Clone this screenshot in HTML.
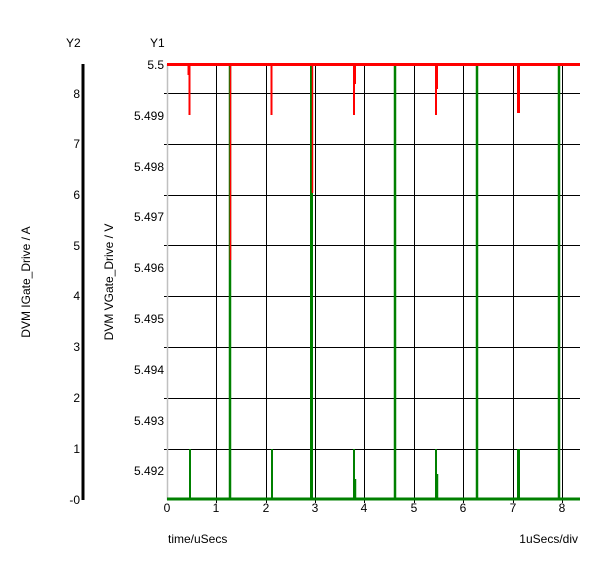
<!DOCTYPE html>
<html><head><style>body{margin:0;background:#fff}svg{display:block}text{font-family:"Liberation Sans",sans-serif;font-size:12px;fill:#000}</style></head>
<body>
<svg width="600" height="563" viewBox="0 0 600 563">
<rect width="600" height="563" fill="#fff"/>
<text x="66" y="47">Y2</text>
<text x="150" y="47">Y1</text>
<line x1="83" y1="64" x2="83" y2="500" stroke="#000" stroke-width="3"/>
<g text-anchor="end">
<text x="80" y="98">8</text><text x="80" y="148">7</text><text x="80" y="199">6</text><text x="80" y="250">5</text><text x="80" y="300">4</text><text x="80" y="351">3</text><text x="80" y="402">2</text><text x="80" y="453">1</text><text x="80" y="504">-0</text>
<text x="164" y="69">5.5</text><text x="164" y="120">5.499</text><text x="164" y="171">5.498</text><text x="164" y="221">5.497</text><text x="164" y="272">5.496</text><text x="164" y="323">5.495</text><text x="164" y="374">5.494</text><text x="164" y="425">5.493</text><text x="164" y="475">5.492</text>
</g>
<text transform="translate(30,282) rotate(-90)" text-anchor="middle">DVM IGate_Drive / A</text>
<text transform="translate(113,282) rotate(-90)" text-anchor="middle">DVM VGate_Drive / V</text>
<g stroke="#000" stroke-width="1">
<line x1="164" y1="93.5" x2="580" y2="93.5"/><line x1="164" y1="144.5" x2="580" y2="144.5"/><line x1="164" y1="195.5" x2="580" y2="195.5"/><line x1="164" y1="245.5" x2="580" y2="245.5"/><line x1="164" y1="296.5" x2="580" y2="296.5"/><line x1="164" y1="347.5" x2="580" y2="347.5"/><line x1="164" y1="398.5" x2="580" y2="398.5"/><line x1="164" y1="449.5" x2="580" y2="449.5"/>
<line x1="216.5" y1="64" x2="216.5" y2="503"/><line x1="266.5" y1="64" x2="266.5" y2="503"/><line x1="315.5" y1="64" x2="315.5" y2="503"/><line x1="364.5" y1="64" x2="364.5" y2="503"/><line x1="414.5" y1="64" x2="414.5" y2="503"/><line x1="463.5" y1="64" x2="463.5" y2="503"/><line x1="513.5" y1="64" x2="513.5" y2="503"/><line x1="562.5" y1="64" x2="562.5" y2="503"/>
</g>
<line x1="167.5" y1="64" x2="167.5" y2="500" stroke="#c0c0c0" stroke-width="1.5"/>
<g stroke="#008000">
<line x1="167" y1="499" x2="580" y2="499" stroke-width="3"/>
<line x1="190" y1="449" x2="190" y2="499" stroke-width="2"/>
<line x1="230" y1="64" x2="230" y2="499" stroke-width="2.5"/>
<line x1="272" y1="449" x2="272" y2="499" stroke-width="2"/>
<line x1="311.5" y1="64" x2="311.5" y2="499" stroke-width="3"/>
<line x1="354" y1="449" x2="354" y2="499" stroke-width="2"/>
<line x1="355.5" y1="479" x2="355.5" y2="499" stroke-width="1.5"/>
<line x1="395" y1="64" x2="395" y2="499" stroke-width="2.5"/>
<line x1="436" y1="449" x2="436" y2="499" stroke-width="2"/>
<line x1="437.5" y1="474" x2="437.5" y2="499" stroke-width="1.5"/>
<line x1="477" y1="64" x2="477" y2="499" stroke-width="2.5"/>
<line x1="518.5" y1="449" x2="518.5" y2="499" stroke-width="3"/>
<line x1="559" y1="64" x2="559" y2="499" stroke-width="2.5"/>
</g>
<g stroke="#ff0000">
<line x1="167" y1="64.5" x2="580" y2="64.5" stroke-width="3"/>
<line x1="189.5" y1="64" x2="189.5" y2="115" stroke-width="2"/>
<line x1="188.5" y1="64" x2="188.5" y2="75" stroke-width="2"/>
<line x1="230.5" y1="64" x2="230.5" y2="260" stroke-width="1.5"/>
<line x1="271.5" y1="64" x2="271.5" y2="115" stroke-width="2"/>
<line x1="312.5" y1="64" x2="312.5" y2="193" stroke-width="1.5"/>
<line x1="354" y1="64" x2="354" y2="115" stroke-width="2"/>
<line x1="355" y1="64" x2="355" y2="84" stroke-width="2"/>
<line x1="436" y1="64" x2="436" y2="115" stroke-width="2"/>
<line x1="437" y1="64" x2="437" y2="89" stroke-width="2"/>
<line x1="518.5" y1="64" x2="518.5" y2="113" stroke-width="3"/>
</g>
<g text-anchor="middle">
<text x="167" y="512">0</text><text x="216" y="512">1</text><text x="266" y="512">2</text><text x="315" y="512">3</text><text x="364" y="512">4</text><text x="414" y="512">5</text><text x="463" y="512">6</text><text x="513" y="512">7</text><text x="562" y="512">8</text>
</g>
<text x="168" y="543">time/uSecs</text>
<text x="578" y="543" text-anchor="end">1uSecs/div</text>
</svg>
</body></html>
